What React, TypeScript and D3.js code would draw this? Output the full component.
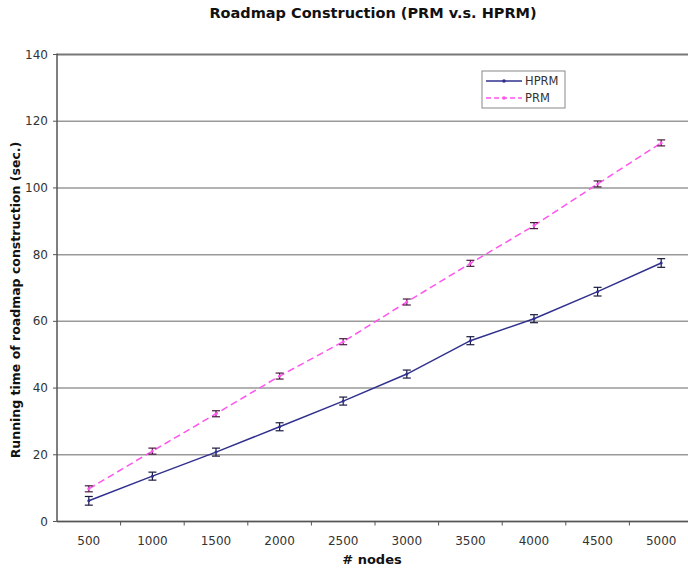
import React from "react";
import * as d3 from "d3";

const categories = ["500", "1000", "1500", "2000", "2500", "3000", "3500", "4000", "4500", "5000"];
const hprm = [6.2, 13.6, 20.8, 28.4, 36.1, 44.2, 54.2, 60.8, 68.9, 77.5];
const hprmErr = [1.3, 1.2, 1.2, 1.2, 1.2, 1.2, 1.2, 1.2, 1.3, 1.3];
const prm = [9.8, 21.1, 32.3, 43.6, 53.9, 65.8, 77.4, 88.7, 101.2, 113.5];
const prmErr = [0.9, 0.9, 0.9, 0.9, 0.9, 0.9, 0.9, 0.9, 0.9, 0.9];
const yTicks = [0, 20, 40, 60, 80, 100, 120, 140];

const W = 688, H = 570;
const left = 57, right = 693, top = 54.5, bottom = 521.5;

export default function App() {
  const x = d3.scaleBand<string>().domain(categories).range([left, right]);
  const y = d3.scaleLinear().domain([0, 140]).range([bottom, top]);
  const cx = (c: string) => (x(c) as number) + x.bandwidth() / 2;
  const line = d3.line<number>().x((_, i) => cx(categories[i])).y((d) => y(d));
  const font = "Verdana, 'DejaVu Sans', sans-serif";

  const series = [
    { name: "HPRM", vals: hprm, err: hprmErr, color: "#30308e", dash: undefined as string | undefined, errColor: "#1a1a40" },
    { name: "PRM", vals: prm, err: prmErr, color: "#ff55ee", dash: "7,4", errColor: "#4a1a40" },
  ];

  return (
    <svg width={W} height={H} style={{ position: "absolute", left: 0, top: 0, background: "#fff" }} fontFamily={font}>
      <text x={373} y={18} textAnchor="middle" fontWeight="bold" fontSize={14.5} fill="#111">
        Roadmap Construction (PRM v.s. HPRM)
      </text>
      {yTicks.map((t) => (
        <g key={t}>
          <line x1={left} x2={W} y1={y(t)} y2={y(t)} stroke={t === 140 ? "#777" : "#999"} strokeWidth={t === 140 ? 2 : 1.5} />
          <line x1={left - 4} x2={left} y1={y(t)} y2={y(t)} stroke="#555" />
          <text x={left - 9} y={y(t) + 4} textAnchor="end" fontSize={12} fill="#333">{t}</text>
        </g>
      ))}
      <line x1={left} x2={left} y1={top - 1} y2={bottom} stroke="#555" strokeWidth={1.5} />
      <line x1={left} x2={W} y1={bottom} y2={bottom} stroke="#555" strokeWidth={1.5} />
      {categories.map((c, i) => (
        <g key={c}>
          <line x1={(x(c) as number) + x.bandwidth()} x2={(x(c) as number) + x.bandwidth()} y1={bottom} y2={bottom + 4} stroke="#555" />
          <text x={cx(c)} y={545} textAnchor="middle" fontSize={12} fill="#333">{c}</text>
        </g>
      ))}
      <text x={372} y={564} textAnchor="middle" fontWeight="bold" fontSize={13} fill="#111"># nodes</text>
      <text transform={`translate(20, ${(top + bottom) / 2 + 12}) rotate(-90)`} textAnchor="middle" fontWeight="bold" fontSize={12.5} fill="#111">
        Running time of roadmap construction (sec.)
      </text>
      {series.map((s) => (
        <g key={s.name}>
          <path d={line(s.vals) as string} fill="none" stroke={s.color} strokeWidth={1.5} strokeDasharray={s.dash} />
          {s.vals.map((v, i) => {
            const px = cx(categories[i]);
            const y1 = y(v + s.err[i]);
            const y2 = y(v - s.err[i]);
            return (
              <g key={i} stroke={s.errColor} strokeWidth={1.2}>
                <line x1={px} x2={px} y1={y1} y2={y2} />
                <line x1={px - 4} x2={px + 4} y1={y1} y2={y1} />
                <line x1={px - 4} x2={px + 4} y1={y2} y2={y2} />
                <circle cx={px} cy={y(v)} r={1.5} fill={s.color} stroke="none" />
              </g>
            );
          })}
        </g>
      ))}
      <g>
        <rect x={482} y={71} width={83} height={37} fill="#fff" stroke="#888" strokeWidth={1} />
        {series.map((s, i) => (
          <g key={s.name}>
            <line x1={486} x2={522} y1={81 + i * 17} y2={81 + i * 17} stroke={s.color} strokeWidth={1.5} strokeDasharray={s.dash ? "5,3" : undefined} />
            <circle cx={504} cy={81 + i * 17} r={1.8} fill={s.color} />
            <text x={525} y={85 + i * 17} fontSize={11.5} fill="#333">{s.name}</text>
          </g>
        ))}
      </g>
    </svg>
  );
}
